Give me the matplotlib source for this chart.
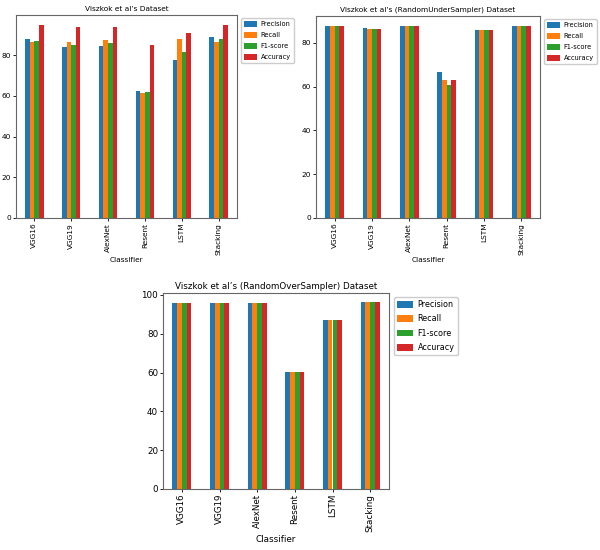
import matplotlib
matplotlib.use("Agg")
import matplotlib.pyplot as plt
import pandas as pd

classifiers = ["VGG16", "VGG19", "AlexNet", "Resent", "LSTM", "Stacking"]
metrics = ["Precision", "Recall", "F1-score", "Accuracy"]

# Viszkok et al's Dataset
orig_precision = [87.8, 84.0, 84.5, 62.5, 77.7, 89.1]
orig_recall = [86.6, 86.6, 87.3, 61.2, 87.8, 86.4]
orig_f1 = [86.9, 85.1, 86.1, 61.7, 81.5, 87.8]
orig_accuracy = [94.8, 93.7, 94.0, 84.8, 91.1, 95.0]

# RandomUnderSampler
under_precision = [87.9, 86.9, 87.9, 66.9, 86.1, 87.6]
under_recall = [87.6, 86.4, 87.9, 63.2, 85.8, 87.6]
under_f1 = [87.6, 86.4, 87.9, 60.6, 85.8, 87.6]
under_accuracy = [87.6, 86.4, 87.9, 63.2, 85.8, 87.6]

# RandomOverSampler
over_precision = [95.8, 95.8, 95.8, 60.4, 86.9, 96.2]
over_recall = [95.8, 95.8, 95.8, 60.4, 86.9, 96.2]
over_f1 = [95.8, 95.8, 95.8, 60.4, 86.9, 96.2]
over_accuracy = [95.8, 95.8, 95.8, 60.4, 86.9, 96.2]

titles = ["Viszkok et al’s Dataset",
          "Viszkok et al’s (RandomUnderSampler) Dataset",
          "Viszkok et al’s (RandomOverSampler) Dataset"]

fig = plt.figure(figsize=(6, 5.5), dpi=100)
W, H = 600, 550

def make_ax(left, top, right, bottom):
    return fig.add_axes([left / W, 1 - bottom / H, (right - left) / W, (bottom - top) / H])

axes = [make_ax(16, 15, 237, 218), make_ax(316, 16, 540, 218), make_ax(163, 293, 389, 489)]
data = [
    [orig_precision, orig_recall, orig_f1, orig_accuracy],
    [under_precision, under_recall, under_f1, under_accuracy],
    [over_precision, over_recall, over_f1, over_accuracy],
]
fsizes = [5.3, 5.3, 6.3]
legend_fs = [4.8, 4.8, 5.8]
spacing = [0.75, 0.75, 0.65]

for ax, series, title, fs, lfs, sp_ in zip(axes, data, titles, fsizes, legend_fs, spacing):
    df = pd.DataFrame(dict(zip(metrics, series)), index=classifiers)
    df.index.name = "Classifier"
    df.plot(kind="bar", ax=ax, width=0.5, legend=False)
    ax.set_title(title, fontsize=fs, pad=3)
    ax.set_xlabel("Classifier", fontsize=fs, labelpad=2)
    ax.tick_params(labelsize=fs, length=2, width=0.6, pad=1.5)
    for sp in ax.spines.values():
        sp.set_color("#666666")
        sp.set_linewidth(0.8)
    ax.legend(loc="upper left", bbox_to_anchor=(1.005, 1.0), fontsize=lfs,
              handlelength=2.0, handleheight=0.9, handletextpad=0.5,
              borderpad=0.4, labelspacing=sp_,
              framealpha=1, edgecolor="#cccccc", fancybox=True)

fig.savefig("out.png", dpi=100)
